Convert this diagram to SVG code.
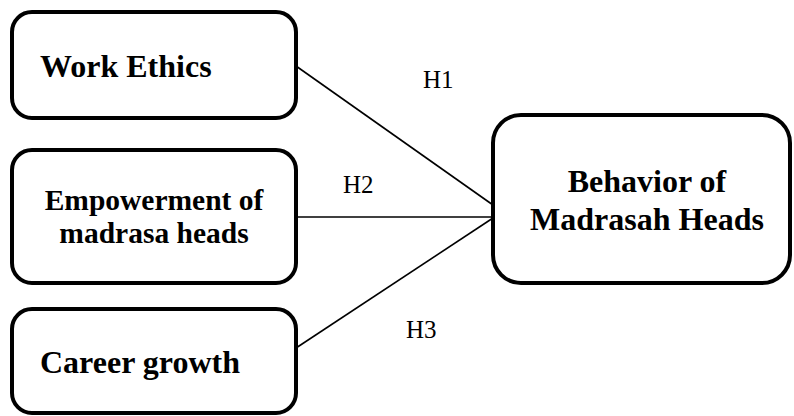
<svg xmlns="http://www.w3.org/2000/svg" width="794" height="416" viewBox="0 0 794 416">
<style>
.box{fill:#fff;stroke:#000;stroke-width:4}
.lbl{font-family:"Liberation Serif",serif;font-weight:bold;font-size:32px;fill:#000}
.lbl.sm{font-size:29.5px}
.h{font-family:"Liberation Serif",serif;font-size:25px;fill:#000}
.conn line{stroke:#000;stroke-width:1.6}
</style>
<rect width="794" height="416" fill="#fff"/>
<g class="conn">
<line x1="296" y1="66" x2="493" y2="205"/>
<line x1="296" y1="217" x2="493" y2="217"/>
<line x1="296" y1="348" x2="493" y2="218"/>
</g>
<g id="n1"><rect class="box" x="12" y="12" width="284" height="106" rx="20"/><text class="lbl" x="40" y="77">Work Ethics</text></g>
<g id="n2"><rect class="box" x="12" y="150" width="284" height="133" rx="20"/><text class="lbl sm" x="154" y="210" text-anchor="middle">Empowerment of</text><text class="lbl sm" x="154" y="243" text-anchor="middle">madrasa heads</text></g>
<g id="n3"><rect class="box" x="12" y="309" width="284" height="104" rx="20"/><text class="lbl" x="40" y="373">Career growth</text></g>
<g id="n4"><rect class="box" x="493" y="115" width="297" height="168" rx="28"/><text class="lbl" x="647" y="192" text-anchor="middle">Behavior of</text><text class="lbl" x="647" y="230" text-anchor="middle">Madrasah Heads</text></g>
<text class="h" x="423" y="88">H1</text>
<text class="h" x="343" y="193">H2</text>
<text class="h" x="406" y="338">H3</text>
</svg>
